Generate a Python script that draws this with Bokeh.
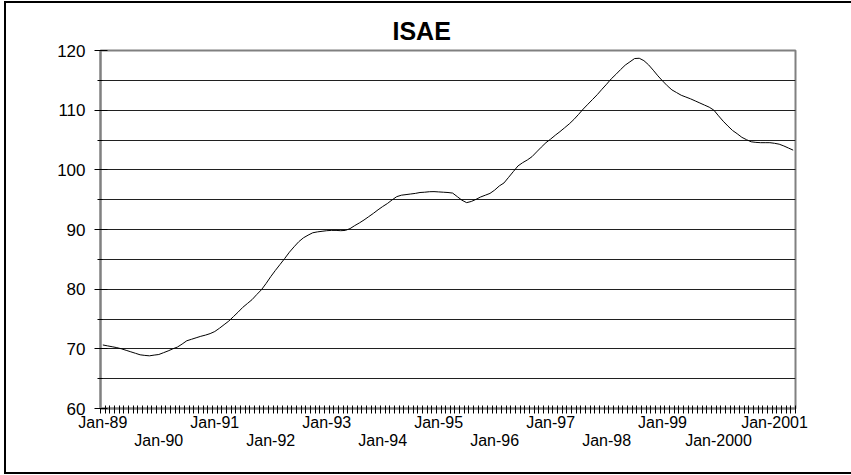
import numpy as np
from bokeh.plotting import figure
from bokeh.models import Range1d, LinearAxis, FixedTicker, SingleIntervalTicker, Title, Grid
from bokeh.embed import file_html
from bokeh.resources import INLINE

title_text = "ISAE"

# Monthly ISAE index, Jan-1989 .. May-2001
isae = [
    70.65, 70.5, 70.35, 70.2, 70.0, 69.75, 69.5, 69.25, 69.0, 68.9, 68.83, 68.95,   # 1989
    69.05, 69.35, 69.65, 70.0, 70.3, 70.8, 71.35, 71.6, 71.85, 72.1, 72.3, 72.55,   # 1990
    72.9, 73.45, 74.05, 74.65, 75.4, 76.15, 76.95, 77.6, 78.25, 79.1, 79.9, 80.95,  # 1991
    82.1, 83.15, 84.15, 85.15, 86.2, 87.1, 87.95, 88.6, 89.05, 89.45, 89.6, 89.7,   # 1992
    89.8, 89.85, 89.85, 89.8, 89.85, 90.15, 90.65, 91.1, 91.6, 92.15, 92.7, 93.3,   # 1993
    93.85, 94.35, 94.95, 95.5, 95.75, 95.85, 95.95, 96.05, 96.2, 96.25, 96.33, 96.35,  # 1994
    96.3, 96.25, 96.2, 96.1, 95.5, 94.9, 94.5, 94.7, 95.05, 95.45, 95.75, 96.05,    # 1995
    96.6, 97.3, 97.8, 98.75, 99.7, 100.65, 101.2, 101.65, 102.2, 103.0, 103.8, 104.55,  # 1996
    105.15, 105.8, 106.4, 107.05, 107.7, 108.45, 109.3, 110.2, 111.0, 111.8, 112.6, 113.5,  # 1997
    114.35, 115.25, 116.0, 116.8, 117.55, 118.1, 118.65, 118.7, 118.3, 117.6, 116.7, 115.75,  # 1998
    114.9, 114.1, 113.4, 112.95, 112.5, 112.2, 111.9, 111.55, 111.2, 110.85, 110.5, 110.0,  # 1999
    109.05, 108.15, 107.35, 106.6, 106.05, 105.45, 105.05, 104.7, 104.6, 104.55, 104.55, 104.55,  # 2000
    104.45, 104.3, 104.0, 103.65, 103.3,  # 2001
]

year_labels = ["Jan-89", "Jan-90", "Jan-91", "Jan-92", "Jan-93", "Jan-94", "Jan-95",
               "Jan-96", "Jan-97", "Jan-98", "Jan-99", "Jan-2000", "Jan-2001"]

y_min, y_max = 60, 120

n = len(isae)
months = np.arange(n)

FONT = "Liberation Sans"

p = figure(width=851, height=475, output_backend="svg", toolbar_location=None,
           x_range=Range1d(-0.5, n - 0.5), y_range=Range1d(y_min, y_max),
           x_axis_type=None, y_axis_type=None,
           min_border_left=100, min_border_right=56, min_border_top=50, min_border_bottom=67)
# outer chart-area frame (left, top, bottom edges; right edge lies outside the window)
p.styles = {
    "background-color": "white",
    "background-image": "linear-gradient(black, black), linear-gradient(black, black), linear-gradient(black, black)",
    "background-size": "2px 473px, 847px 2px, 847px 2px",
    "background-position": "4px 1px, 4px 1px, 4px 472px",
    "background-repeat": "no-repeat",
}
p.background_fill_color = "white"
p.border_fill_color = None
p.outline_line_color = "#808080"
p.outline_line_width = 2

# y axis
yticker = SingleIntervalTicker(interval=10, num_minor_ticks=2)
yaxis = LinearAxis(ticker=yticker)
yaxis.axis_line_color = "#808080"
yaxis.axis_line_width = 2
yaxis.major_tick_line_color = "black"
yaxis.major_tick_in = 7
yaxis.major_tick_out = 6
yaxis.minor_tick_line_color = "black"
yaxis.minor_tick_in = 2
yaxis.minor_tick_out = 3
yaxis.major_label_standoff = 9
yaxis.major_label_text_font = FONT
yaxis.major_label_text_font_size = "17px"
yaxis.major_label_text_color = "black"
p.add_layout(yaxis, "left")

grid = Grid(dimension=1, ticker=yticker,
            grid_line_color="#202020", grid_line_width=1,
            minor_grid_line_color="#202020", minor_grid_line_width=1)
p.add_layout(grid)

# x axis: row 1 labels + monthly tick marks
jan_pos = [12 * i for i in range(len(year_labels))]
row1 = [jan_pos[i] for i in range(0, len(year_labels), 2)]
row2 = [jan_pos[i] for i in range(1, len(year_labels), 2)]
boundaries = [m - 0.5 for m in range(n + 1)]

xa = LinearAxis(ticker=FixedTicker(ticks=row1, minor_ticks=boundaries),
                major_label_overrides={jan_pos[i]: year_labels[i] for i in range(0, len(year_labels), 2)})
xa.axis_line_color = "#808080"
xa.axis_line_width = 2
xa.major_tick_line_color = None
xa.major_tick_in = 0
xa.major_tick_out = 0
xa.minor_tick_line_color = "black"
xa.minor_tick_in = 3
xa.minor_tick_out = 5
xa.major_label_standoff = 0
xa.major_label_text_font = FONT
xa.major_label_text_font_size = "16px"
xa.major_label_text_color = "black"
p.add_layout(xa, "below")

xb = LinearAxis(ticker=FixedTicker(ticks=row2, minor_ticks=[]),
                major_label_overrides={jan_pos[i]: year_labels[i] for i in range(1, len(year_labels), 2)})
xb.axis_line_color = None
xb.major_tick_line_color = None
xb.minor_tick_line_color = None
xb.major_tick_in = 0
xb.major_tick_out = 0
xb.major_label_standoff = -2
xb.major_label_text_font = FONT
xb.major_label_text_font_size = "16px"
xb.major_label_text_color = "black"
p.add_layout(xb, "below")

# title
t = Title(text=title_text, text_font=FONT, text_font_size="25px", text_font_style="bold",
          text_color="black", align="left", offset=292, standoff=11)
p.add_layout(t, "above")

p.line(months, isae, line_color="black", line_width=1)

open("out.html", "w").write(file_html(p, INLINE))
